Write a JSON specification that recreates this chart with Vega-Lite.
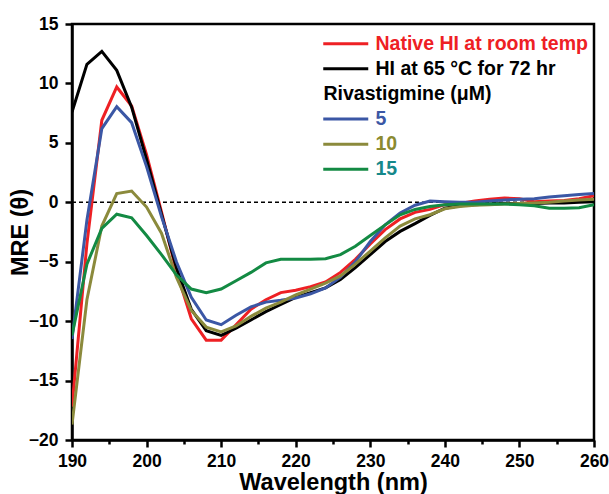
{
  "$schema": "https://vega.github.io/schema/vega-lite/v6.json",
  "width": 522,
  "height": 416,
  "autosize": {"type": "none"},
  "padding": {"left": 72, "top": 24, "right": 15, "bottom": 54},
  "config": {
    "font": "Liberation Sans",
    "view": {"stroke": "#000000", "strokeWidth": 2.5},
    "axis": {
      "domainColor": "#000000", "domainWidth": 2.5, "tickColor": "#000000", "tickWidth": 2.5,
      "labelFont": "Liberation Sans", "labelFontWeight": "bold", "labelFontSize": 17.5, "labelColor": "#000000",
      "titleFont": "Liberation Sans", "titleFontWeight": "bold", "titleFontSize": 23.5, "titleColor": "#000000",
      "grid": false, "labelOverlap": false, "labelFlush": false
    }
  },
  "datasets": {
    "curves": [
      {"wl":190,"s":"Native HI at room temp","mre":-17.2},{"wl":192,"s":"Native HI at room temp","mre":-3.5},{"wl":194,"s":"Native HI at room temp","mre":6.9},{"wl":196,"s":"Native HI at room temp","mre":9.7},{"wl":198,"s":"Native HI at room temp","mre":8.1},{"wl":200,"s":"Native HI at room temp","mre":4.0},{"wl":202,"s":"Native HI at room temp","mre":-0.8},{"wl":204,"s":"Native HI at room temp","mre":-5.8},{"wl":206,"s":"Native HI at room temp","mre":-9.8},{"wl":208,"s":"Native HI at room temp","mre":-11.6},{"wl":210,"s":"Native HI at room temp","mre":-11.6},{"wl":212,"s":"Native HI at room temp","mre":-10.3},{"wl":214,"s":"Native HI at room temp","mre":-9.0},{"wl":216,"s":"Native HI at room temp","mre":-8.2},{"wl":218,"s":"Native HI at room temp","mre":-7.6},{"wl":220,"s":"Native HI at room temp","mre":-7.4},{"wl":222,"s":"Native HI at room temp","mre":-7.1},{"wl":224,"s":"Native HI at room temp","mre":-6.7},{"wl":226,"s":"Native HI at room temp","mre":-5.9},{"wl":228,"s":"Native HI at room temp","mre":-4.8},{"wl":230,"s":"Native HI at room temp","mre":-3.5},{"wl":232,"s":"Native HI at room temp","mre":-2.3},{"wl":234,"s":"Native HI at room temp","mre":-1.4},{"wl":236,"s":"Native HI at room temp","mre":-0.85},{"wl":238,"s":"Native HI at room temp","mre":-0.6},{"wl":240,"s":"Native HI at room temp","mre":-0.2},{"wl":242,"s":"Native HI at room temp","mre":-0.1},{"wl":244,"s":"Native HI at room temp","mre":0.1},{"wl":246,"s":"Native HI at room temp","mre":0.25},{"wl":248,"s":"Native HI at room temp","mre":0.35},{"wl":250,"s":"Native HI at room temp","mre":0.3},{"wl":252,"s":"Native HI at room temp","mre":0.05},{"wl":254,"s":"Native HI at room temp","mre":0.1},{"wl":256,"s":"Native HI at room temp","mre":0.15},{"wl":258,"s":"Native HI at room temp","mre":0.3},{"wl":260,"s":"Native HI at room temp","mre":0.55},
      {"wl":190,"s":"HI at 65 °C for 72 hr","mre":7.6},{"wl":192,"s":"HI at 65 °C for 72 hr","mre":11.6},{"wl":194,"s":"HI at 65 °C for 72 hr","mre":12.7},{"wl":196,"s":"HI at 65 °C for 72 hr","mre":11.1},{"wl":198,"s":"HI at 65 °C for 72 hr","mre":8.0},{"wl":200,"s":"HI at 65 °C for 72 hr","mre":3.6},{"wl":202,"s":"HI at 65 °C for 72 hr","mre":-1.0},{"wl":204,"s":"HI at 65 °C for 72 hr","mre":-5.5},{"wl":206,"s":"HI at 65 °C for 72 hr","mre":-9.0},{"wl":208,"s":"HI at 65 °C for 72 hr","mre":-10.8},{"wl":210,"s":"HI at 65 °C for 72 hr","mre":-11.2},{"wl":212,"s":"HI at 65 °C for 72 hr","mre":-10.6},{"wl":214,"s":"HI at 65 °C for 72 hr","mre":-9.9},{"wl":216,"s":"HI at 65 °C for 72 hr","mre":-9.2},{"wl":218,"s":"HI at 65 °C for 72 hr","mre":-8.6},{"wl":220,"s":"HI at 65 °C for 72 hr","mre":-8.0},{"wl":222,"s":"HI at 65 °C for 72 hr","mre":-7.6},{"wl":224,"s":"HI at 65 °C for 72 hr","mre":-7.2},{"wl":226,"s":"HI at 65 °C for 72 hr","mre":-6.5},{"wl":228,"s":"HI at 65 °C for 72 hr","mre":-5.5},{"wl":230,"s":"HI at 65 °C for 72 hr","mre":-4.4},{"wl":232,"s":"HI at 65 °C for 72 hr","mre":-3.3},{"wl":234,"s":"HI at 65 °C for 72 hr","mre":-2.45},{"wl":236,"s":"HI at 65 °C for 72 hr","mre":-1.8},{"wl":238,"s":"HI at 65 °C for 72 hr","mre":-1.1},{"wl":240,"s":"HI at 65 °C for 72 hr","mre":-0.5},{"wl":242,"s":"HI at 65 °C for 72 hr","mre":-0.3},{"wl":244,"s":"HI at 65 °C for 72 hr","mre":-0.2},{"wl":246,"s":"HI at 65 °C for 72 hr","mre":-0.15},{"wl":248,"s":"HI at 65 °C for 72 hr","mre":-0.1},{"wl":250,"s":"HI at 65 °C for 72 hr","mre":-0.1},{"wl":252,"s":"HI at 65 °C for 72 hr","mre":-0.1},{"wl":254,"s":"HI at 65 °C for 72 hr","mre":-0.05},{"wl":256,"s":"HI at 65 °C for 72 hr","mre":-0.05},{"wl":258,"s":"HI at 65 °C for 72 hr","mre":0.0},{"wl":260,"s":"HI at 65 °C for 72 hr","mre":0.05},
      {"wl":190,"s":"5","mre":-11.5},{"wl":192,"s":"5","mre":-1.5},{"wl":194,"s":"5","mre":6.2},{"wl":196,"s":"5","mre":8.05},{"wl":198,"s":"5","mre":6.7},{"wl":200,"s":"5","mre":3.0},{"wl":202,"s":"5","mre":-1.2},{"wl":204,"s":"5","mre":-5.0},{"wl":206,"s":"5","mre":-8.0},{"wl":208,"s":"5","mre":-9.9},{"wl":210,"s":"5","mre":-10.3},{"wl":212,"s":"5","mre":-9.5},{"wl":214,"s":"5","mre":-8.8},{"wl":216,"s":"5","mre":-8.4},{"wl":218,"s":"5","mre":-8.25},{"wl":220,"s":"5","mre":-8.05},{"wl":222,"s":"5","mre":-7.7},{"wl":224,"s":"5","mre":-7.2},{"wl":226,"s":"5","mre":-6.3},{"wl":228,"s":"5","mre":-5.0},{"wl":230,"s":"5","mre":-3.3},{"wl":232,"s":"5","mre":-1.9},{"wl":234,"s":"5","mre":-0.9},{"wl":236,"s":"5","mre":-0.25},{"wl":238,"s":"5","mre":0.1},{"wl":240,"s":"5","mre":0.05},{"wl":242,"s":"5","mre":0.0},{"wl":244,"s":"5","mre":0.0},{"wl":246,"s":"5","mre":0.1},{"wl":248,"s":"5","mre":0.2},{"wl":250,"s":"5","mre":0.25},{"wl":252,"s":"5","mre":0.3},{"wl":254,"s":"5","mre":0.45},{"wl":256,"s":"5","mre":0.55},{"wl":258,"s":"5","mre":0.65},{"wl":260,"s":"5","mre":0.75},
      {"wl":190,"s":"10","mre":-18.7},{"wl":192,"s":"10","mre":-8.2},{"wl":194,"s":"10","mre":-2.0},{"wl":196,"s":"10","mre":0.73},{"wl":198,"s":"10","mre":0.95},{"wl":200,"s":"10","mre":-0.4},{"wl":202,"s":"10","mre":-2.6},{"wl":204,"s":"10","mre":-6.3},{"wl":206,"s":"10","mre":-9.1},{"wl":208,"s":"10","mre":-10.5},{"wl":210,"s":"10","mre":-10.9},{"wl":212,"s":"10","mre":-10.4},{"wl":214,"s":"10","mre":-9.6},{"wl":216,"s":"10","mre":-8.9},{"wl":218,"s":"10","mre":-8.4},{"wl":220,"s":"10","mre":-7.8},{"wl":222,"s":"10","mre":-7.3},{"wl":224,"s":"10","mre":-6.8},{"wl":226,"s":"10","mre":-6.2},{"wl":228,"s":"10","mre":-5.2},{"wl":230,"s":"10","mre":-4.1},{"wl":232,"s":"10","mre":-3.0},{"wl":234,"s":"10","mre":-2.0},{"wl":236,"s":"10","mre":-1.4},{"wl":238,"s":"10","mre":-1.05},{"wl":240,"s":"10","mre":-0.55},{"wl":242,"s":"10","mre":-0.35},{"wl":244,"s":"10","mre":-0.25},{"wl":246,"s":"10","mre":-0.2},{"wl":248,"s":"10","mre":-0.15},{"wl":250,"s":"10","mre":-0.1},{"wl":252,"s":"10","mre":-0.05},{"wl":254,"s":"10","mre":0.0},{"wl":256,"s":"10","mre":0.1},{"wl":258,"s":"10","mre":0.2},{"wl":260,"s":"10","mre":0.25},
      {"wl":190,"s":"15","mre":-11.2},{"wl":192,"s":"15","mre":-5.2},{"wl":194,"s":"15","mre":-2.2},{"wl":196,"s":"15","mre":-1.0},{"wl":198,"s":"15","mre":-1.3},{"wl":200,"s":"15","mre":-2.8},{"wl":202,"s":"15","mre":-4.4},{"wl":204,"s":"15","mre":-6.1},{"wl":206,"s":"15","mre":-7.3},{"wl":208,"s":"15","mre":-7.6},{"wl":210,"s":"15","mre":-7.3},{"wl":212,"s":"15","mre":-6.6},{"wl":214,"s":"15","mre":-5.9},{"wl":216,"s":"15","mre":-5.1},{"wl":218,"s":"15","mre":-4.8},{"wl":220,"s":"15","mre":-4.8},{"wl":222,"s":"15","mre":-4.8},{"wl":224,"s":"15","mre":-4.75},{"wl":226,"s":"15","mre":-4.4},{"wl":228,"s":"15","mre":-3.7},{"wl":230,"s":"15","mre":-2.8},{"wl":232,"s":"15","mre":-1.9},{"wl":234,"s":"15","mre":-1.05},{"wl":236,"s":"15","mre":-0.6},{"wl":238,"s":"15","mre":-0.35},{"wl":240,"s":"15","mre":-0.2},{"wl":242,"s":"15","mre":-0.15},{"wl":244,"s":"15","mre":-0.15},{"wl":246,"s":"15","mre":-0.15},{"wl":248,"s":"15","mre":-0.15},{"wl":250,"s":"15","mre":-0.2},{"wl":252,"s":"15","mre":-0.3},{"wl":254,"s":"15","mre":-0.5},{"wl":256,"s":"15","mre":-0.5},{"wl":258,"s":"15","mre":-0.45},{"wl":260,"s":"15","mre":-0.2}
    ],
    "zero": [{"mre": 0}]
  },
  "layer": [
    {
      "data": {"name": "zero"},
      "mark": {"type": "rule", "color": "#000000", "strokeWidth": 1.5, "strokeDash": [4, 3]},
      "encoding": {"y": {"field": "mre", "type": "quantitative", "scale": {"domain": [-20, 15]}}}
    },
    {
      "data": {"name": "curves"},
      "mark": {"type": "line", "strokeWidth": 3, "clip": true},
      "encoding": {
        "x": {
          "field": "wl", "type": "quantitative",
          "scale": {"domain": [190, 260], "nice": false, "zero": false},
          "axis": {
            "title": "Wavelength (nm)",
            "values": [190,195,200,205,210,215,220,225,230,235,240,245,250,255,260],
            "labelExpr": "datum.value % 10 == 0 ? datum.label : ''",
            "tickSize": {"condition": {"test": "datum.value % 10 != 0", "value": 4}, "value": 7},
            "labelPadding": 5, "titlePadding": 1
          }
        },
        "y": {
          "field": "mre", "type": "quantitative",
          "scale": {"domain": [-20, 15], "nice": false, "zero": false},
          "axis": {
            "title": "MRE (θ)",
            "values": [-20,-17.5,-15,-12.5,-10,-7.5,-5,-2.5,0,2.5,5,7.5,10,12.5,15],
            "labelExpr": "datum.value % 5 == 0 ? datum.label : ''",
            "tickSize": {"condition": {"test": "datum.value % 5 != 0", "value": 4}, "value": 7},
            "labelPadding": 7, "titlePadding": -4
          }
        },
        "color": {
          "field": "s", "type": "nominal",
          "scale": {
            "domain": ["Native HI at room temp", "HI at 65 °C for 72 hr", "Rivastigmine (μM)", "5", "10", "15"],
            "range": ["#ee2024", "#000000", "transparent", "#3b57a5", "#8b8a3c", "#138a43"]
          },
          "legend": {
            "title": null,
            "orient": "none",
            "legendX": 264,
            "legendY": 10,
            "padding": 0,
            "symbolType": "M-3,0H3",
            "symbolSize": 225,
            "symbolStrokeWidth": 3,
            "labelFont": "Liberation Sans",
            "labelFontWeight": "bold",
            "labelFontSize": 19.5,
            "labelLimit": 300,
            "labelOffset": {"expr": "datum.label == 'Rivastigmine (μM)' ? -32 : 20"},
            "rowPadding": 4.1,
            "labelColor": {"expr": "datum.label == 'Native HI at room temp' ? '#ee2024' : datum.label == '5' ? '#3b57a5' : datum.label == '10' ? '#8b8a30' : datum.label == '15' ? '#16888a' : '#000000'"}
          }
        }
      }
    }
  ]
}
